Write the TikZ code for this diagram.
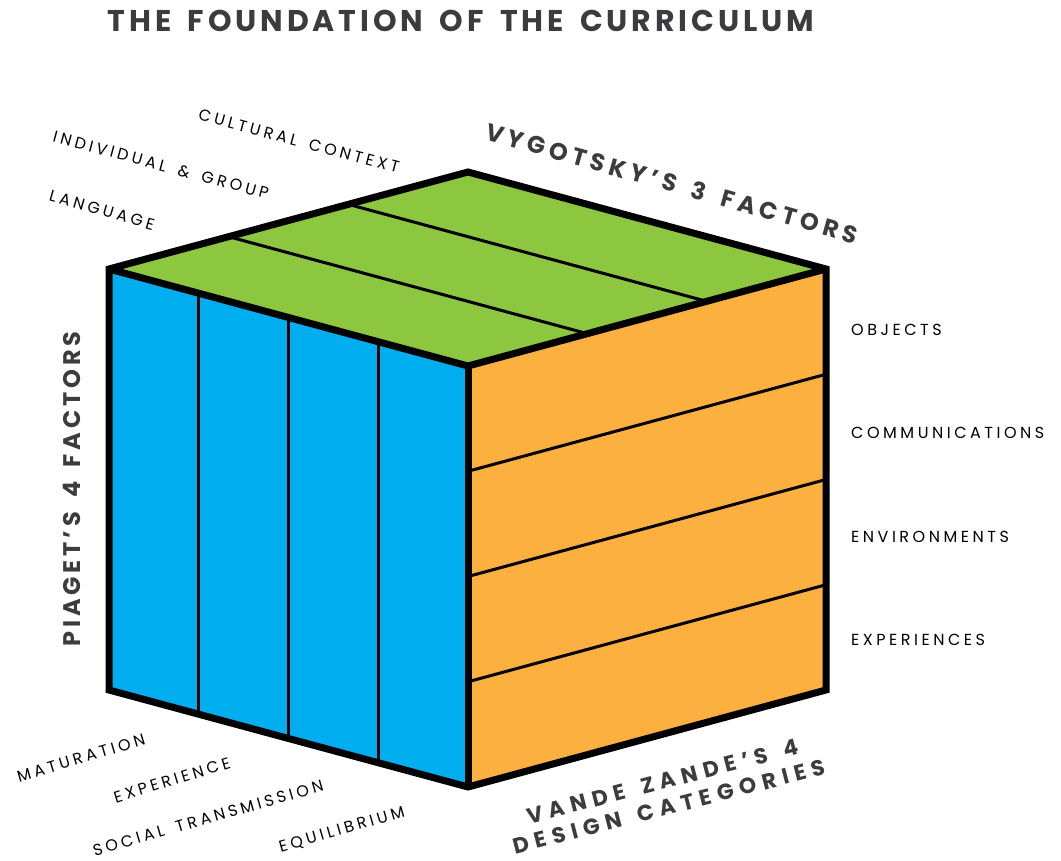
\documentclass[tikz,border=0pt]{standalone}
\usepackage{fontspec}
\usetikzlibrary{calc}
\setmainfont{Poppins}
\newfontfamily\lblfont[LetterSpace=22,WordSpace=1.6]{Poppins}
\newfontfamily\hdfont[LetterSpace=20,WordSpace=1.6]{Poppins}
\newfontfamily\vzfont[LetterSpace=28,WordSpace=1.5]{Poppins}
\newfontfamily\pgfont[LetterSpace=16,WordSpace=1.6]{Poppins}
\newfontfamily\ttlfont[LetterSpace=13,WordSpace=1.6]{Poppins}
\definecolor{cubeblue}{HTML}{00AEEF}
\definecolor{cubegreen}{HTML}{8DC63F}
\definecolor{cubeorange}{HTML}{FBB040}
\definecolor{headgray}{HTML}{3C3C3E}
\tikzset{
  x=1pt, y=1pt,
  lbl/.style={font=\lblfont\fontsize{16}{18}\selectfont, text=black, inner sep=0pt},
  head/.style={font=\hdfont\bfseries\fontsize{24}{28}\selectfont, text=headgray, inner sep=0pt},
  vzhead/.style={font=\vzfont\bfseries\fontsize{22}{26}\selectfont, text=headgray, inner sep=0pt, align=center},
  pghead/.style={font=\pgfont\bfseries\fontsize{24}{28}\selectfont, text=headgray, inner sep=0pt},
  titlestyle/.style={font=\ttlfont\bfseries\fontsize{30}{34}\selectfont, text=headgray, inner sep=0pt},
  outer/.style={line width=7pt, line join=miter, line cap=butt},
  divider/.style={line width=3pt}
}
\begin{document}
\begin{tikzpicture}
\useasboundingbox (0,0) rectangle (1061,-861);
% vertices
\coordinate (TL) at (109,-269);
\coordinate (TB) at (468,-172);
\coordinate (TR) at (826,-269);
\coordinate (TF) at (468,-366);
\coordinate (BL) at (109,-690);
\coordinate (BF) at (468,-787);
\coordinate (BR) at (826,-690);
% faces
\fill[cubegreen] (TL) -- (TB) -- (TR) -- (TF) -- cycle;
\fill[cubeblue] (TL) -- (TF) -- (BF) -- (BL) -- cycle;
\fill[cubeorange] (TF) -- (TR) -- (BR) -- (BF) -- cycle;
% dividers on top face
\foreach \t in {1,2} {
  \draw[divider] ($(TL)!\t/3!(TB)$) -- ($(TF)!\t/3!(TR)$);
}
% dividers on left face
\foreach \t in {1,2,3} {
  \draw[divider] ($(TL)!\t/4!(TF)$) -- ($(BL)!\t/4!(BF)$);
}
% dividers on right face
\foreach \t in {1,2,3} {
  \draw[divider] ($(TF)!\t/4!(BF)$) -- ($(TR)!\t/4!(BR)$);
}
% outline
\draw[outer] (TL) -- (TB) -- (TR) -- (BR) -- (BF) -- (BL) -- cycle;
\draw[outer] (TL) -- (TF) -- (TR);
\draw[outer] (TF) -- (BF);
% headings
\node[titlestyle] (title) at (461,-21) {THE FOUNDATION OF THE CURRICULUM};
\node[head, rotate=-15.8] (vyg) at (672,-183) {VYGOTSKY’S 3 FACTORS};
\node[pghead, rotate=90] (pia) at (72,-489) {PIAGET’S 4 FACTORS};
\node[vzhead, rotate=14.5] (vz) at (666,-794) {VANDE ZANDE’S 4\\DESIGN CATEGORIES};
% Vygotsky labels
\node[lbl, rotate=-15] (cult) at (299,-141) {CULTURAL CONTEXT};
\node[lbl, rotate=-15] (indiv) at (161,-165) {INDIVIDUAL \& GROUP};
\node[lbl, rotate=-16] (lang) at (102,-210) {LANGUAGE};
% Vande Zande labels
\node[lbl, anchor=west] (obj) at (851,-330) {OBJECTS};
\node[lbl, anchor=west] (comm) at (851,-433) {COMMUNICATIONS};
\node[lbl, anchor=west] (env) at (851,-537) {ENVIRONMENTS};
\node[lbl, anchor=west] (exps) at (851,-640) {EXPERIENCES};
% Piaget labels
\node[lbl, rotate=16.5] (mat) at (81,-758) {MATURATION};
\node[lbl, rotate=17] (exp) at (172,-780) {EXPERIENCE};
\node[lbl, rotate=16] (soc) at (208,-818) {SOCIAL TRANSMISSION};
\node[lbl, rotate=16] (equ) at (342,-830) {EQUILIBRIUM};
\end{tikzpicture}
\end{document}
